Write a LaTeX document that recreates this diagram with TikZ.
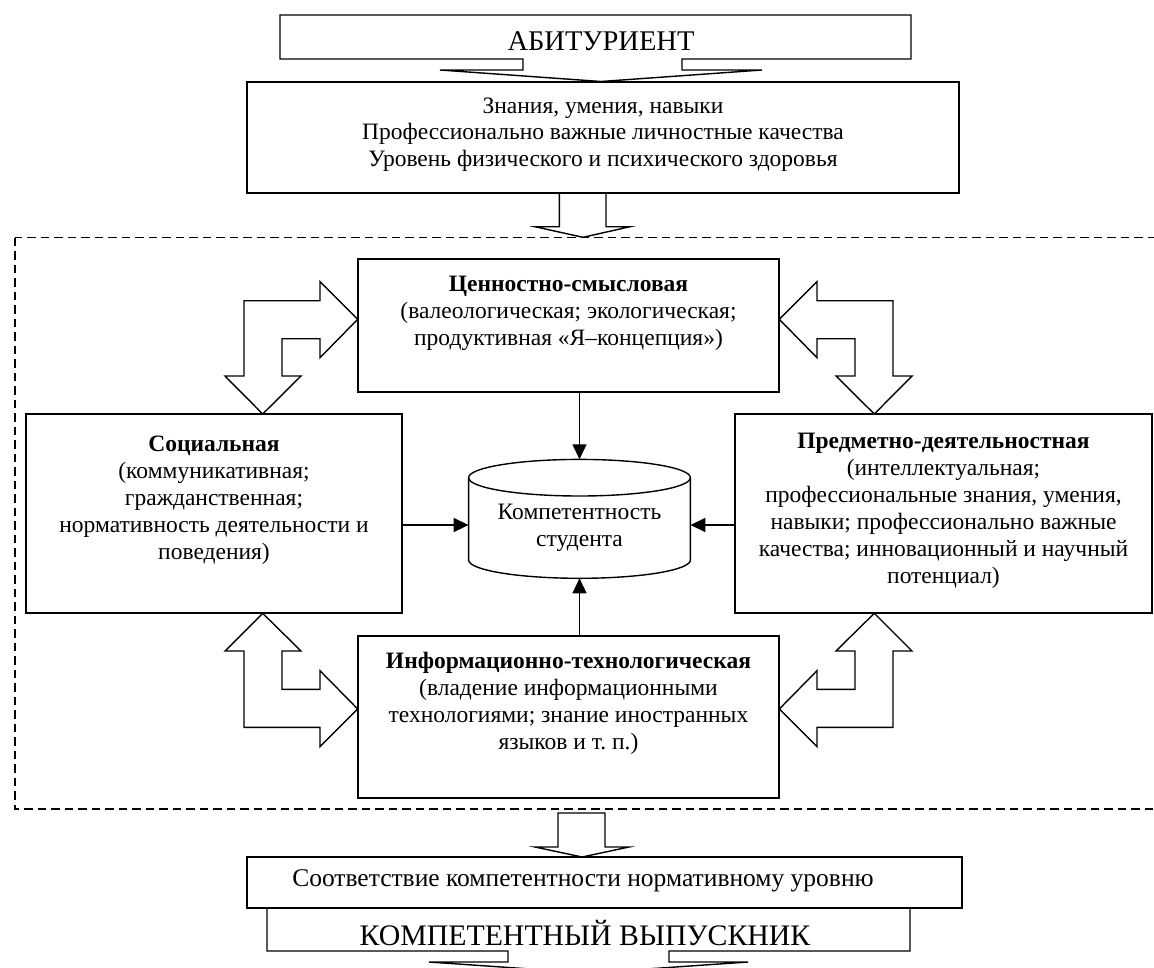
\documentclass[tikz,border=0pt]{standalone}
\usepackage{fontspec}
\setmainfont{Liberation Serif}
\usetikzlibrary{arrows.meta}
\tikzset{
  box/.style={draw, line width=1.4pt, rectangle, inner sep=0pt, outer sep=0pt, anchor=north west},
  txt/.style={align=center, inner sep=0pt, font=\fontsize{23.5}{27}\selectfont},
  txtb/.style={inner sep=0pt, font=\fontsize{25.5}{29}\selectfont},
  bigtxt/.style={inner sep=0pt, font=\fontsize{28.5}{32}\selectfont},
  blockarrow/.style={draw, line width=1.4pt, line join=miter},
  cylline/.style={draw, line width=1.4pt},
  conn/.style={line width=1.4pt, -{Triangle[length=15pt,width=14pt]}},
  frame/.style={draw, line width=1.4pt, dash pattern=on 8.5pt off 5pt},
}
\begin{document}
\begin{tikzpicture}[x=1pt,y=-1pt]
\useasboundingbox (0,0) rectangle (1154,967);
\clip (0,0) rectangle (1154,967);

% dashed frame
\draw[frame] (15,237.5) rectangle (1175,809);

% top callout
\draw[blockarrow] (280,15) -- (911,15) -- (911,59) -- (682,59) -- (682,70) -- (762,70) -- (601,81.5) -- (440,70) -- (523,70) -- (523,59) -- (280,59) -- cycle;
\node[bigtxt] (abit) at (601,41) {АБИТУРИЕНТ};

% entry box
\node[box, minimum width=712pt, minimum height=111pt] (zn) at (247,82) {};
\node[txt, font=\fontsize{23.5}{26.5}\selectfont] (zntext) at (603,134.5) {Знания, умения, навыки\\Профессионально важные личностные качества\\Уровень физического и психического здоровья};
\draw[blockarrow] (559.3,193) -- (559.3,226.7) -- (535,226.7) -- (583,237.3) -- (630,226.7) -- (606,226.7) -- (606,193);

% four component boxes
\node[box, minimum width=421pt, minimum height=133pt] (cv) at (358,259) {};
\node[txt] (cvtext) at (568.5,313) {\textbf{Ценностно-смысловая}\\(валеологическая; экологическая;\\продуктивная «Я–концепция»)};

\node[box, minimum width=376pt, minimum height=199pt] (soc) at (26,414) {};
\node[txt] (soctext) at (214,500) {\textbf{Социальная}\\(коммуникативная;\\гражданственная;\\нормативность деятельности и\\поведения)};

\node[box, minimum width=417pt, minimum height=199pt] (pd) at (735,414) {};
\node[txt] (pdtext) at (943.5,511) {\textbf{Предметно-деятельностная}\\(интеллектуальная;\\профессиональные знания, умения,\\навыки; профессионально важные\\качества; инновационный и научный\\потенциал)};

\node[box, minimum width=421pt, minimum height=162pt] (it) at (358,636) {};
\node[txt] (ittext) at (568.5,703) {\textbf{Информационно-технологическая}\\(владение информационными\\технологиями; знание иностранных\\языков и т.~п.)};

% central cylinder (anchor node + outline)
\node[inner sep=0pt, outer sep=0pt, minimum width=221.8pt, minimum height=119pt] (cyl) at (579.5,518.8) {};
\draw[cylline] (579.5,477.7) ellipse [x radius=110.9, y radius=18.3];
\draw[cylline] (468.6,477.7) -- (468.6,560)
  .. controls (468.6,570.1) and (518.25,578.3) .. (579.5,578.3)
  .. controls (640.75,578.3) and (690.4,570.1) .. (690.4,560) -- (690.4,477.7);
\node[txt] (cyltext) at (579.5,528.3) {Компетентность\\студента};

\coordinate (midrow) at (0,525);
\draw[conn] (cv.south -| cyl.north) -- (cyl.north);
\draw[conn] (it.north -| cyl.south) -- (cyl.south);
\draw[conn] (soc.east |- midrow) -- (cyl.west |- midrow);
\draw[conn] (pd.west |- midrow) -- (cyl.east |- midrow);

% bent double block arrows
\draw[blockarrow] (357.7,319.3) -- (320,281.7) -- (320,300.7) -- (244,300.7) -- (244,376) -- (225,376) -- (262.7,414) -- (301,376) -- (282,376) -- (282,338.7) -- (320,338.7) -- (320,357.7) -- cycle;
\draw[blockarrow] (779.3,319.3) -- (817,281.7) -- (817,300.7) -- (893,300.7) -- (893,376) -- (912,376) -- (874.3,414) -- (836,376) -- (855,376) -- (855,338.7) -- (817,338.7) -- (817,357.7) -- cycle;
\draw[blockarrow] (262.7,613.3) -- (301,651) -- (282,651) -- (282,689.3) -- (320,689.3) -- (320,670.7) -- (357.7,709) -- (320,746.7) -- (320,727.3) -- (244,727.3) -- (244,651) -- (225,651) -- cycle;
\draw[blockarrow] (874.3,613.3) -- (836,651) -- (855,651) -- (855,689.3) -- (817,689.3) -- (817,670.7) -- (779.3,709) -- (817,746.7) -- (817,727.3) -- (893,727.3) -- (893,651) -- (912,651) -- cycle;

% output
\draw[blockarrow] (558,813) -- (605,813) -- (605,847) -- (629,847) -- (582,857) -- (535,847) -- (558,847) -- cycle;
\node[box, minimum width=715pt, minimum height=51pt] (sootv) at (247,857) {};
\node[txtb] (sootvtext) at (583,881) {Соответствие компетентности нормативному уровню};
\draw[blockarrow] (267,908) -- (910,908) -- (910,951) -- (669,951) -- (669,962) -- (748,962) -- (588.5,973) -- (429,962) -- (508,962) -- (508,951) -- (267,951) -- cycle;
\node[bigtxt, font=\fontsize{29.8}{33}\selectfont] (vyp) at (585,933) {КОМПЕТЕНТНЫЙ ВЫПУСКНИК};
\end{tikzpicture}
\end{document}
